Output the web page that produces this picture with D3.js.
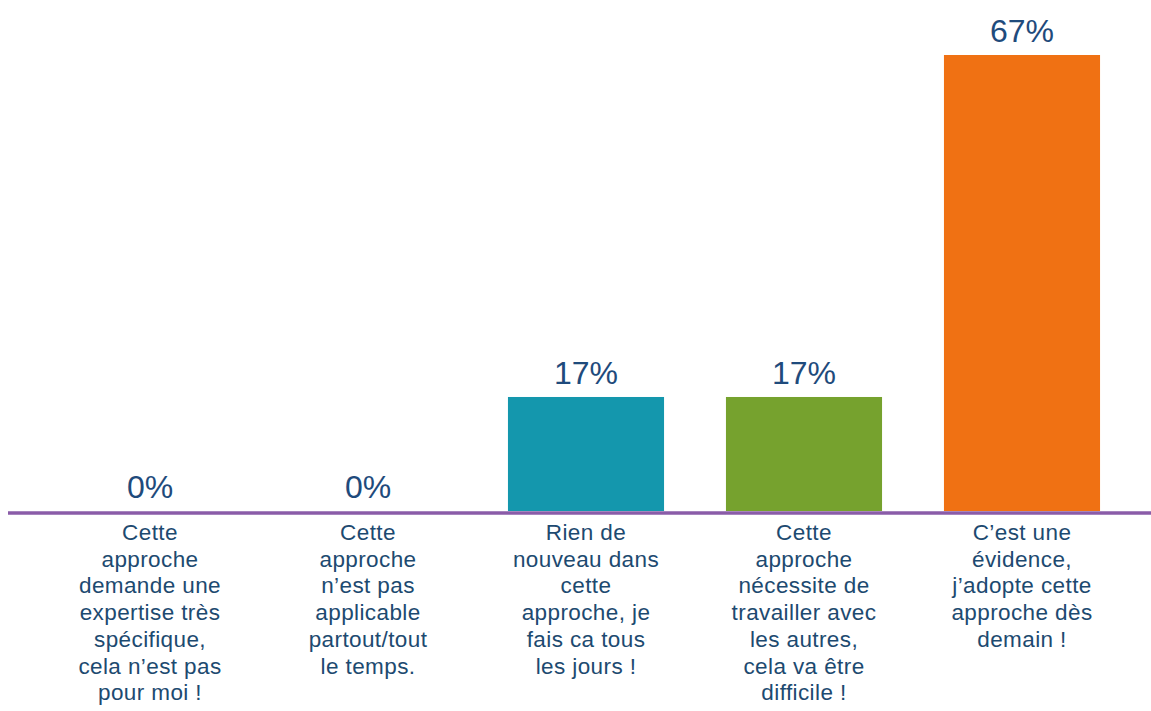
<!DOCTYPE html>
<html>
<head>
<meta charset="utf-8">
<script src="https://cdn.jsdelivr.net/npm/d3@7"></script>
<style>
  html, body { margin: 0; padding: 0; background: #ffffff; }
  svg { display: block; }
</style>
</head>
<body>
<svg id="chart" width="1151" height="711"></svg>
<script>
const categories = [
  "Cette approche demande une expertise très spécifique, cela n’est pas pour moi !",
  "Cette approche n’est pas applicable partout/tout le temps.",
  "Rien de nouveau dans cette approche, je fais ca tous les jours !",
  "Cette approche nécessite de travailler avec les autres, cela va être difficile !",
  "C’est une évidence, j’adopte cette approche dès demain !"
];
const categoryLines = [
  ["Cette", "approche", "demande une", "expertise très", "spécifique,", "cela n’est pas", "pour moi !"],
  ["Cette", "approche", "n’est pas", "applicable", "partout/tout", "le temps."],
  ["Rien de", "nouveau dans", "cette", "approche, je", "fais ca tous", "les jours !"],
  ["Cette", "approche", "nécessite de", "travailler avec", "les autres,", "cela va être", "difficile !"],
  ["C’est une", "évidence,", "j’adopte cette", "approche dès", "demain !"]
];
const values = [0, 0, 16.67, 16.67, 66.67];
const valueLabels = ["0%", "0%", "17%", "17%", "67%"];
const colors = ["#1497ad", "#1497ad", "#1497ad", "#76a22e", "#f07113"];

const svg = d3.select("#chart");
const baseline = 511;

const x = d3.scaleBand()
  .domain(categories)
  .range([41, 1131])
  .paddingInner(0.284)
  .paddingOuter(0.142);

const y = d3.scaleLinear()
  .domain([0, 66.67])
  .range([baseline, 55]);

const data = categories.map((c, i) => ({
  cat: c, value: values[i], label: valueLabels[i], lines: categoryLines[i], color: colors[i]
}));

// bars
svg.append("g").selectAll("rect")
  .data(data.filter(d => d.value > 0))
  .join("rect")
  .attr("x", d => x(d.cat))
  .attr("y", d => y(d.value))
  .attr("width", x.bandwidth())
  .attr("height", d => y(0) - y(d.value))
  .attr("fill", d => d.color);

// baseline axis line
svg.append("line")
  .attr("x1", 8).attr("x2", 1151)
  .attr("y1", baseline + 2).attr("y2", baseline + 2)
  .attr("stroke", "#8a5ca8")
  .attr("stroke-width", 3.5);

// value labels
svg.append("g").selectAll("text")
  .data(data)
  .join("text")
  .attr("x", d => x(d.cat) + x.bandwidth() / 2)
  .attr("y", d => y(d.value) - 13)
  .attr("text-anchor", "middle")
  .attr("font-family", "'Liberation Sans', Arial, sans-serif")
  .attr("font-size", 32)
  .attr("fill", "#1f4b7c")
  .text(d => d.label);

// category labels
const catG = svg.append("g").selectAll("text")
  .data(data)
  .join("text")
  .attr("text-anchor", "middle")
  .attr("font-family", "'Liberation Sans', Arial, sans-serif")
  .attr("font-size", 22.5)
  .attr("letter-spacing", 0.4)
  .attr("fill", "#1d4a70");

catG.selectAll("tspan")
  .data(d => d.lines.map(l => ({ l, cx: x(d.cat) + x.bandwidth() / 2 })))
  .join("tspan")
  .attr("x", t => t.cx)
  .attr("y", (t, i) => 540 + i * 26.7)
  .text(t => t.l);
</script>
</body>
</html>
